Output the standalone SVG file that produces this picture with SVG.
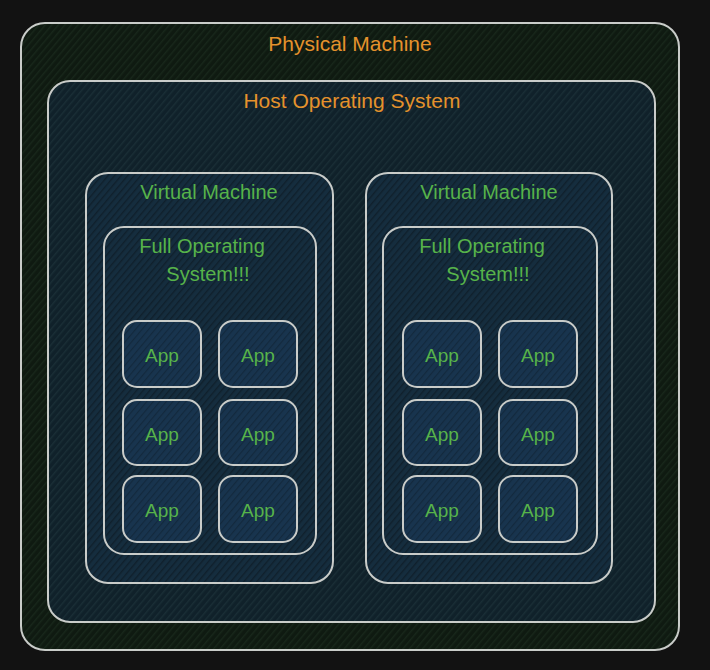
<svg xmlns="http://www.w3.org/2000/svg" width="710" height="670" viewBox="0 0 710 670">
<defs>
<pattern id="hPhys" width="5" height="5" patternUnits="userSpaceOnUse" patternTransform="rotate(-50)"><rect width="5" height="5" fill="#0f1a11"/><rect width="5" height="1.4" fill="#18271b"/></pattern>
<pattern id="hHost" width="5" height="5" patternUnits="userSpaceOnUse" patternTransform="rotate(-50)"><rect width="5" height="5" fill="#10212a"/><rect width="5" height="1.4" fill="#1a2e36"/></pattern>
<pattern id="hVM" width="5" height="5" patternUnits="userSpaceOnUse" patternTransform="rotate(-50)"><rect width="5" height="5" fill="#152d3e"/><rect width="5" height="1.4" fill="#10202c"/></pattern>
<pattern id="hApp" width="5" height="5" patternUnits="userSpaceOnUse" patternTransform="rotate(-50)"><rect width="5" height="5" fill="#18344e"/><rect width="5" height="1.2" fill="#13293d"/></pattern>
</defs>
<style>
.box{stroke:#c9ccc9;stroke-width:2;}
.orange{fill:#e5922c;font-family:"Liberation Sans",Arial,sans-serif;font-size:21px;text-anchor:middle;}
.green{fill:#57b34a;font-family:"Liberation Sans",Arial,sans-serif;font-size:20px;text-anchor:middle;}
.app{fill:#57b34a;font-family:"Liberation Sans",Arial,sans-serif;font-size:19px;text-anchor:middle;}
</style>
<rect width="710" height="670" fill="#121212"/>
<g id="physical-machine">
<rect class="box" x="21" y="23" width="658" height="627" rx="24" fill="url(#hPhys)"/>
<text class="orange" x="350" y="51">Physical Machine</text>
</g>
<g id="host-os">
<rect class="box" x="48" y="81" width="607" height="541" rx="22" fill="url(#hHost)"/>
<text class="orange" x="352" y="108">Host Operating System</text>
</g>
<g id="vm-left">
<rect class="box" x="86" y="173" width="247" height="410" rx="22" fill="url(#hVM)"/>
<text class="green" x="209" y="199">Virtual Machine</text>
</g>
<g id="vm-right">
<rect class="box" x="366" y="173" width="246" height="410" rx="22" fill="url(#hVM)"/>
<text class="green" x="489" y="199">Virtual Machine</text>
</g>
<g id="os-left">
<rect class="box" x="104" y="227" width="212" height="327" rx="20" fill="url(#hVM)"/>
<text class="green" x="202" y="253">Full Operating</text>
<text class="green" x="208" y="281">System!!!</text>
</g>
<g id="os-right">
<rect class="box" x="383" y="227" width="214" height="327" rx="20" fill="url(#hVM)"/>
<text class="green" x="482" y="253">Full Operating</text>
<text class="green" x="488" y="281">System!!!</text>
</g>
<g id="app-l1"><rect class="box" x="123" y="321" width="78" height="66" rx="14" fill="url(#hApp)"/><text class="app" x="162" y="362">App</text></g>
<g id="app-l2"><rect class="box" x="219" y="321" width="78" height="66" rx="14" fill="url(#hApp)"/><text class="app" x="258" y="362">App</text></g>
<g id="app-l3"><rect class="box" x="123" y="400" width="78" height="65" rx="14" fill="url(#hApp)"/><text class="app" x="162" y="441">App</text></g>
<g id="app-l4"><rect class="box" x="219" y="400" width="78" height="65" rx="14" fill="url(#hApp)"/><text class="app" x="258" y="441">App</text></g>
<g id="app-l5"><rect class="box" x="123" y="476" width="78" height="66" rx="14" fill="url(#hApp)"/><text class="app" x="162" y="517">App</text></g>
<g id="app-l6"><rect class="box" x="219" y="476" width="78" height="66" rx="14" fill="url(#hApp)"/><text class="app" x="258" y="517">App</text></g>
<g id="app-r1"><rect class="box" x="403" y="321" width="78" height="66" rx="14" fill="url(#hApp)"/><text class="app" x="442" y="362">App</text></g>
<g id="app-r2"><rect class="box" x="499" y="321" width="78" height="66" rx="14" fill="url(#hApp)"/><text class="app" x="538" y="362">App</text></g>
<g id="app-r3"><rect class="box" x="403" y="400" width="78" height="65" rx="14" fill="url(#hApp)"/><text class="app" x="442" y="441">App</text></g>
<g id="app-r4"><rect class="box" x="499" y="400" width="78" height="65" rx="14" fill="url(#hApp)"/><text class="app" x="538" y="441">App</text></g>
<g id="app-r5"><rect class="box" x="403" y="476" width="78" height="66" rx="14" fill="url(#hApp)"/><text class="app" x="442" y="517">App</text></g>
<g id="app-r6"><rect class="box" x="499" y="476" width="78" height="66" rx="14" fill="url(#hApp)"/><text class="app" x="538" y="517">App</text></g>
<g id="connectors"></g>
</svg>
